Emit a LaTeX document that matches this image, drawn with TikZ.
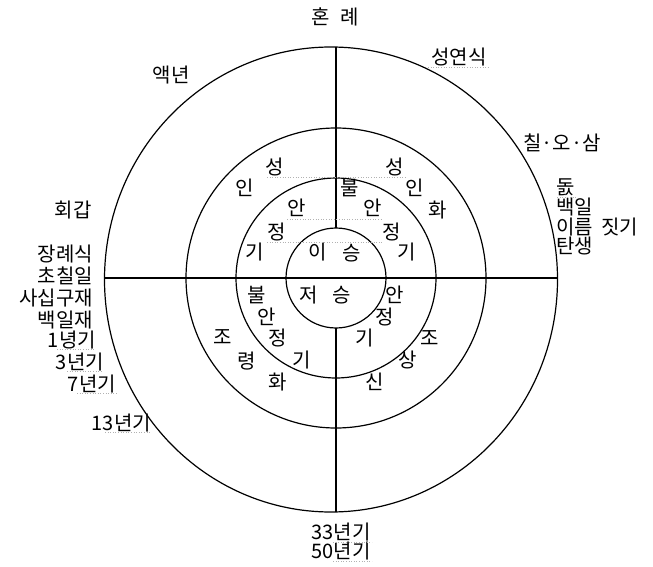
\documentclass[tikz,border=0pt]{standalone}
\usepackage{fontspec}
\setmainfont{Noto Sans CJK KR}
\begin{document}
\begin{tikzpicture}[x=1pt,y=-1pt,
  lbl/.style={font=\fontsize{20}{22}\selectfont, inner sep=0pt, text=black},
  ring/.style={line width=1.2pt, black},
  ul/.style={gray!60, dotted, line width=0.6pt}]
\useasboundingbox (0,0) rectangle (653,567);
% circles
\draw[ring] (331,279.5) ellipse [x radius=226.5, y radius=232.5];
\draw[ring] (336,278) circle [radius=150];
\draw[ring] (336,278) circle [radius=100];
\draw[ring] (336,278) circle [radius=50];
% axes
\draw[ring] (336,47.2) -- (336,228);
\draw[ring] (336,328) -- (336,511.8);
\draw[ring] (104.6,278) -- (557.4,278);
% outer labels
\node[lbl] (honrye) at (335,17) {혼\hspace{10pt}례};
\node[lbl] (seongyeon) at (459,57) {성연식};
\node[lbl] (aeknyeon) at (171,75) {액년};
\node[lbl] (hoegap) at (73,210) {회갑};
\node[lbl] (chilosam) at (562,143) {칠·오·삼};
\node[lbl,anchor=west] (dol) at (556,187) {돐};
\node[lbl,anchor=west] (baegil) at (556,207) {백일};
\node[lbl,anchor=west] (ireum) at (556,227) {이름\hspace{8pt}짓기};
\node[lbl,anchor=west] (tansaeng) at (556,246) {탄생};
\node[lbl,anchor=east] (jangrye) at (93,254) {장례식};
\node[lbl,anchor=east] (chochil) at (93,276) {초칠일};
\node[lbl,anchor=east] (sasip) at (93,298) {사십구재};
\node[lbl,anchor=east] (baegiljae) at (93,320) {백일재};
\node[lbl,anchor=east] (y1) at (96,340) {1녕기};
\node[lbl,anchor=east] (y3) at (104,362) {3년기};
\node[lbl,anchor=east] (y7) at (116,384) {7년기};
\node[lbl,anchor=east] (y13) at (151,423) {13년기};
\node[lbl] (y33) at (341,532) {33년기};
\node[lbl] (y50) at (341,551) {50년기};
% inner labels, upper left
\node[lbl] (a1) at (275,167) {성};
\node[lbl] (a2) at (245,188) {인};
\node[lbl] (a3) at (297,208) {안};
\node[lbl] (a4) at (277,232) {정};
\node[lbl] (a5) at (255,252) {기};
\node[lbl] (a6) at (318,252) {이};
% upper right
\node[lbl] (b1) at (395,167) {성};
\node[lbl] (b2) at (350,188) {불};
\node[lbl] (b3) at (415,188) {인};
\node[lbl] (b4) at (438,210) {화};
\node[lbl] (b5) at (373,208) {안};
\node[lbl] (b6) at (392,232) {정};
\node[lbl] (b7) at (407,252) {기};
\node[lbl] (b8) at (352,253) {승};
% lower left
\node[lbl] (c1) at (257,295) {불};
\node[lbl] (c2) at (309,295) {저};
\node[lbl] (c3) at (267,317) {안};
\node[lbl] (c4) at (223,337) {조};
\node[lbl] (c5) at (278,338) {정};
\node[lbl] (c6) at (247,361) {령};
\node[lbl] (c7) at (302,360) {기};
\node[lbl] (c8) at (278,382) {화};
% lower right
\node[lbl] (d1) at (342,295) {승};
\node[lbl] (d2) at (395,295) {안};
\node[lbl] (d3) at (385,317) {정};
\node[lbl] (d4) at (365,338) {기};
\node[lbl] (d5) at (430,338) {조};
\node[lbl] (d6) at (408,360) {상};
\node[lbl] (d7) at (375,382) {신};
% dotted underlines
\draw[ul] (428,67) -- (490,67);
\draw[ul] (557,197) -- (577,197);
\draw[ul] (57,349) -- (95,349);
\draw[ul] (67,371) -- (103,371);
\draw[ul] (77,393) -- (117,393);
\draw[ul] (105,432) -- (151,432);
\draw[ul] (333,542) -- (372,542);
\draw[ul] (333,561) -- (372,561);
\draw[ul] (267,177) -- (405,177);
\draw[ul] (287,219) -- (383,219);
\draw[ul] (267,242) -- (382,242);
\end{tikzpicture}
\end{document}
